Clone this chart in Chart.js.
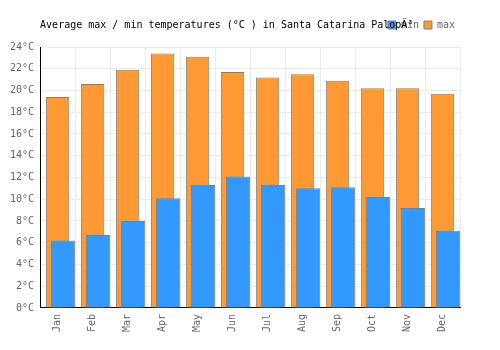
<!DOCTYPE html>
<html>
<head>
<meta charset="utf-8">
<script src="https://cdn.jsdelivr.net/npm/chart.js@4/dist/chart.umd.min.js"></script>
<style>
  html, body { margin: 0; padding: 0; background: #fff; }
  #wrap { width: 500px; height: 350px; }
</style>
</head>
<body>
<div id="wrap"><canvas id="c" width="500" height="350"></canvas></div>
<script>
const months = ['Jan', 'Feb', 'Mar', 'Apr', 'May', 'Jun', 'Jul', 'Aug', 'Sep', 'Oct', 'Nov', 'Dec'];
const maxTemps = [19.4, 20.6, 21.9, 23.4, 23.1, 21.7, 21.2, 21.5, 20.9, 20.2, 20.2, 19.7];
const minTemps = [6.2, 6.7, 8.0, 10.1, 11.3, 12.1, 11.3, 11.0, 11.1, 10.2, 9.2, 7.1];
const yTicks = [0, 2, 4, 6, 8, 10, 12, 14, 16, 18, 20, 22, 24];
const titleText = 'Average max / min temperatures (°C ) in Santa Catarina PalopÃ³';

const FONT = 'DejaVu Sans Mono';
const minShift = 0.157;

new Chart(document.getElementById('c'), {
  type: 'bar',
  data: {
    labels: months,
    datasets: [
      {
        label: 'min',
        data: minTemps.map((v, i) => ({ x: i, y: v })),
        xAxisID: 'x2',
        yAxisID: 'y',
        grouped: false,
        backgroundColor: '#3399ff',
        borderColor: '#808080',
        borderWidth: 1,
        borderSkipped: 'bottom',
        categoryPercentage: 1,
        barPercentage: 0.695
      },
      {
        label: 'max',
        data: maxTemps,
        xAxisID: 'x',
        yAxisID: 'y',
        grouped: false,
        backgroundColor: '#ff9933',
        borderColor: '#808080',
        borderWidth: 1,
        borderSkipped: 'bottom',
        categoryPercentage: 1,
        barPercentage: 0.667
      }
    ]
  },
  options: {
    responsive: false,
    animation: false,
    devicePixelRatio: 1,
    layout: { padding: { top: 15, right: 40, bottom: 12, left: 4 } },
    plugins: {
      tooltip: { enabled: false },
      legend: {
        display: true,
        position: 'top',
        align: 'end',
        weight: 1000,
        labels: {
          boxWidth: 8,
          boxHeight: 8,
          padding: 5,
          color: '#666',
          font: { family: FONT, size: 10 }
        }
      },
      title: {
        display: true,
        text: titleText,
        position: 'top',
        align: 'start',
        fullSize: false,
        weight: 500,
        color: '#000',
        font: { family: FONT, size: 10, weight: 'normal' },
        padding: { top: -21, bottom: 16 }
      }
    },
    scales: {
      x: {
        type: 'category',
        position: 'bottom',
        offset: true,
        grid: { display: true, color: '#ebebeb', drawTicks: false, offset: true },
        border: { display: true, color: '#000', width: 1 },
        ticks: {
          color: '#666',
          font: { family: FONT, size: 10 },
          minRotation: 90,
          maxRotation: 90,
          autoSkip: false,
          padding: 6
        }
      },
      x2: {
        type: 'linear',
        display: false,
        min: -0.5 - minShift,
        max: 11.5 - minShift,
        offset: false,
        ticks: { stepSize: 1, includeBounds: false }
      },
      y: {
        type: 'linear',
        min: yTicks[0],
        max: yTicks[yTicks.length - 1],
        grid: { color: '#ebebeb', drawTicks: false },
        border: { display: true, color: '#000', width: 1 },
        afterBuildTicks: (scale) => { scale.ticks = yTicks.map(v => ({ value: v })); },
        ticks: {
          color: '#666',
          font: { family: FONT, size: 10 },
          padding: 6,
          callback: (v) => v + '°C'
        }
      }
    }
  }
});
</script>
</body>
</html>
